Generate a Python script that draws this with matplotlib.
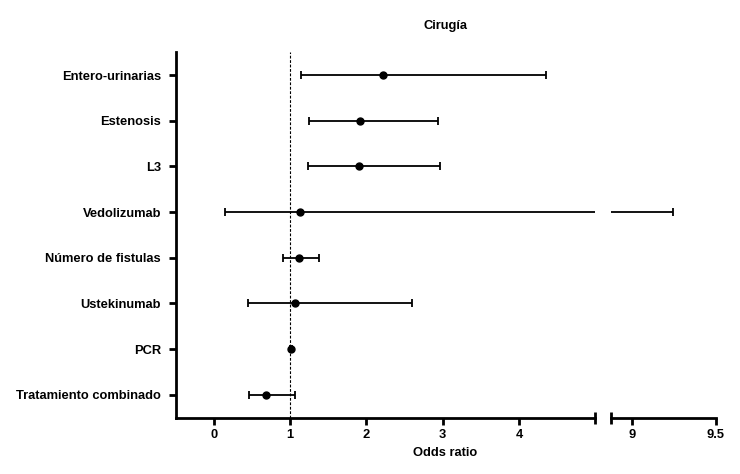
import matplotlib
matplotlib.use('Agg')
import matplotlib.pyplot as plt
import numpy as np

plt.rcParams['font.family'] = ['Liberation Sans', 'DejaVu Sans']
plt.rcParams['font.weight'] = 'bold'

# data (bottom to top)
labels = ['Tratamiento combinado', 'PCR', 'Ustekinumab', 'Número de fistulas',
          'Vedolizumab', 'L3', 'Estenosis', 'Entero-urinarias']
odds = [0.69, 1.01, 1.07, 1.12, 1.13, 1.90, 1.91, 2.22]
lower = [0.46, 1.00, 0.45, 0.91, 0.14, 1.23, 1.25, 1.14]
upper = [1.06, 1.02, 2.60, 1.38, 9.245, 2.96, 2.94, 4.35]

left_ticks = [0, 1, 2, 3, 4]
right_ticks = [9, 9.5]

fig = plt.figure(figsize=(7.4, 4.74), dpi=100)
ax1 = fig.add_axes([0.2374, 0.1188, 0.5671, 0.7709])
ax2 = fig.add_axes([0.8253, 0.1188, 0.1419, 0.7709])

y = np.arange(len(labels))
odds = np.array(odds)
err = [odds - np.array(lower), np.array(upper) - odds]

fs = 9.3
for ax in (ax1, ax2):
    ax.errorbar(odds, y, xerr=err, fmt='o', color='black', ms=5,
                elinewidth=1.3, capsize=2.6, capthick=1.3)
    ax.set_ylim(-0.5, 7.5)
    ax.spines['top'].set_visible(False)
    ax.spines['right'].set_visible(False)
    ax.spines['bottom'].set_linewidth(2)
    ax.tick_params(axis='x', width=2, length=5, labelsize=fs, pad=3)
    ax.tick_params(axis='x', which='minor', direction='inout', width=2, length=8)

ax1.axvline(1, color='black', lw=0.8, ls=(0, (2.5, 1.5)))
ax1.set_xlim(-0.5, 5)
ax1.set_xticks(left_ticks)
ax1.set_xticks([5], minor=True)
ax1.set_yticks(y)
ax1.set_yticklabels(labels, fontsize=fs)
ax1.spines['left'].set_linewidth(2)
ax1.tick_params(axis='y', width=2, length=5, pad=5.5)

ax2.set_xlim(8.875, 9.5)
ax2.set_xticks(right_ticks)
ax2.set_xticklabels(['9', '9.5'])
ax2.set_xticks([8.875], minor=True)
ax2.spines['left'].set_visible(False)
ax2.set_yticks([])

fig.text(0.602, 0.945, 'Cirugía', ha='center', va='center', fontsize=fs, weight='bold')
fig.text(0.602, 0.045, 'Odds ratio', ha='center', va='center', fontsize=fs, weight='bold')

fig.savefig('out.png', dpi=100)
